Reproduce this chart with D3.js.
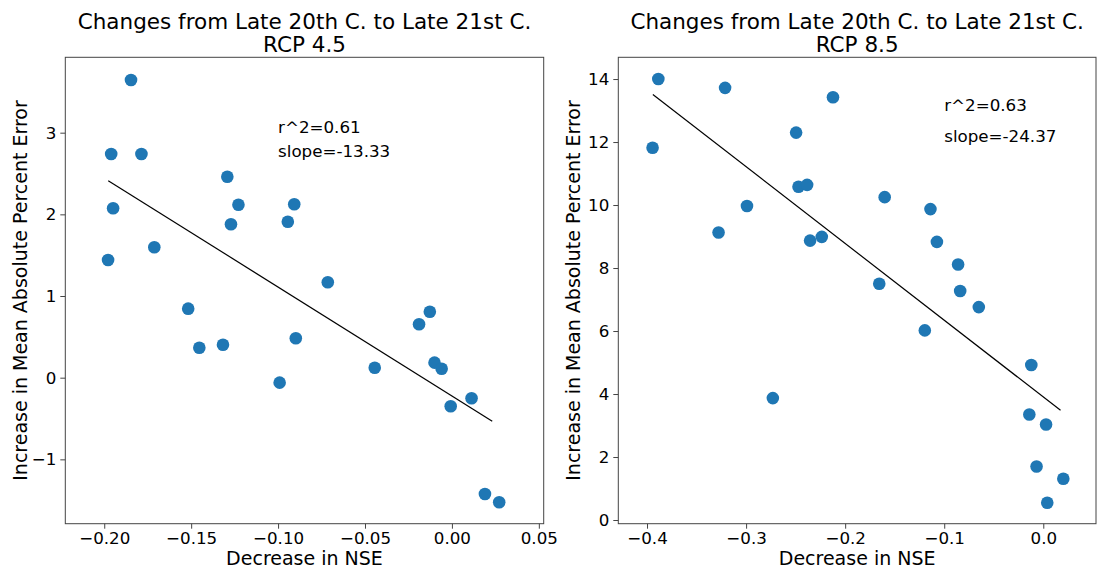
<html>
<head>
    <meta charset="utf-8">
    <style>
        body { margin: 0; background: white; }
        text { font-family: "DejaVu Sans", sans-serif; fill: black; }
        .frame { fill: none; stroke: #444; stroke-width: 1; }
        .tick line { stroke: #444; }
        .domain { display: none; }
    </style>
</head>
<body>
    <svg id="container" width="1097" height="570"></svg>
</body>
<script src="https://cdn.jsdelivr.net/npm/d3@7"></script>
<script>
    // RCP 4.5 scatter
    let nse45 = [-0.1846, -0.1960, -0.1786, -0.1292, -0.1228, -0.0907, -0.1949, -0.1271, -0.0944,
        -0.1712, -0.1978, -0.0714, -0.1517, -0.0127, -0.0189, -0.0898, -0.1317, -0.1453,
        -0.0100, -0.0059, -0.0444, -0.0991, 0.0113, -0.0007, 0.0190, 0.0272]
    let mape45 = [3.645, 2.739, 2.739, 2.461, 2.118, 2.123, 2.074, 1.878, 1.910,
        1.597, 1.441, 1.168, 0.845, 0.808, 0.654, 0.482, 0.404, 0.367,
        0.184, 0.110, 0.122, -0.061, -0.252, -0.350, -1.424, -1.526]

    // RCP 8.5 scatter
    let nse85 = [-0.3886, -0.3212, -0.2123, -0.2495, -0.3944, -0.2471, -0.2384, -0.2991, -0.1601,
        -0.1139, -0.3278, -0.2354, -0.2236, -0.1074, -0.0860, -0.1656, -0.0839, -0.0651,
        -0.1196, -0.0121, -0.2730, -0.0141, 0.0028, -0.0068, 0.0202, 0.0040]
    let mape85 = [14.00, 13.72, 13.42, 12.30, 11.82, 10.58, 10.64, 9.97, 10.25,
        9.87, 9.13, 8.87, 8.99, 8.83, 8.11, 7.50, 7.27, 6.76,
        6.02, 4.92, 3.87, 3.35, 3.03, 1.70, 1.31, 0.55]

    let titles = ["Changes from Late 20th C. to Late 21st C.\nRCP 4.5",
                  "Changes from Late 20th C. to Late 21st C.\nRCP 8.5"]
    let xTicks45 = [-0.20, -0.15, -0.10, -0.05, 0.00, 0.05]
    let yTicks45 = [-1, 0, 1, 2, 3]
    let xTicks85 = [-0.4, -0.3, -0.2, -0.1, 0.0]
    let yTicks85 = [0, 2, 4, 6, 8, 10, 12, 14]

    // regression fits: slope, intercept, x extent, r^2
    let fit45 = { slope: -13.33, intercept: -0.223, x0: -0.1977, x1: 0.0232, r2: 0.61 }
    let fit85 = { slope: -24.37, intercept: 3.906, x0: -0.3941, x1: 0.0174, r2: 0.63 }

    let panels = [
        { x: nse45, y: mape45, title: titles[0], xTicks: xTicks45, yTicks: yTicks45, xFmt: ".2f",
          fit: fit45, xDomain: [-0.2224, 0.0528], yDomain: [-1.788, 3.923], left: 65.3, right: 543.7,
          textAt: [-0.1, 3.0, 2.7] },
        { x: nse85, y: mape85, title: titles[1], xTicks: xTicks85, yTicks: yTicks85, xFmt: ".1f",
          fit: fit85, xDomain: [-0.429, 0.0532], yDomain: [-0.117, 14.69], left: 618.3, right: 1096,
          textAt: [-0.1, 13, 12] }
    ]

    let svg = d3.select("#container")
    let plotTop = 57.3, plotBottom = 523.7
    let minus = s => s.replace("-", "\u2212")

    panels.forEach(p => {
        let g = svg.append("g")
        let x = d3.scaleLinear().domain(p.xDomain).range([p.left, p.right])
        let y = d3.scaleLinear().domain(p.yDomain).range([plotBottom, plotTop])

        let xAxis = g.append("g")
            .attr("transform", `translate(0,${plotBottom})`)
            .call(d3.axisBottom(x).tickValues(p.xTicks).tickSize(5).tickPadding(3)
                .tickFormat(d => minus(d3.format(p.xFmt)(d))))
        xAxis.selectAll("text").attr("font-size", "16.7px").attr("dy", "0.71em")
            .style("font-family", "DejaVu Sans")

        let yAxis = g.append("g")
            .attr("transform", `translate(${p.left},0)`)
            .call(d3.axisLeft(y).tickValues(p.yTicks).tickSize(5).tickPadding(4)
                .tickFormat(d => minus(d3.format("d")(d))))
        yAxis.selectAll("text").attr("font-size", "16.7px")
            .style("font-family", "DejaVu Sans")

        g.append("rect").attr("class", "frame")
            .attr("x", p.left).attr("y", plotTop)
            .attr("width", p.right - p.left).attr("height", plotBottom - plotTop)

        g.selectAll("circle").data(p.x.map((d, i) => [d, p.y[i]]))
            .enter().append("circle")
            .attr("cx", d => x(d[0]))
            .attr("cy", d => y(d[1]))
            .attr("r", 6.3)
            .attr("fill", "#1f77b4")

        let f = p.fit
        g.append("line")
            .attr("x1", x(f.x0)).attr("y1", y(f.intercept + f.slope * f.x0))
            .attr("x2", x(f.x1)).attr("y2", y(f.intercept + f.slope * f.x1))
            .attr("stroke", "black").attr("stroke-width", 1.2)

        g.append("text").attr("x", x(p.textAt[0])).attr("y", y(p.textAt[1]))
            .attr("font-size", "16.7px").text("r^2=" + f.r2.toFixed(2))
        g.append("text").attr("x", x(p.textAt[0])).attr("y", y(p.textAt[2]))
            .attr("font-size", "16.7px").text("slope=" + f.slope.toFixed(2))

        let cx = (p.left + p.right) / 2
        p.title.split("\n").forEach((line, i) => {
            g.append("text").attr("x", cx).attr("y", 28.5 + i * 23.5)
                .attr("text-anchor", "middle").attr("font-size", "21.5px").text(line)
        })

        g.append("text").attr("x", cx).attr("y", 565)
            .attr("text-anchor", "middle").attr("font-size", "19px").text("Decrease in NSE")

        g.append("text")
            .attr("transform", `translate(${p.left - 38},${(plotTop + plotBottom) / 2}) rotate(-90)`)
            .attr("text-anchor", "middle").attr("font-size", "19px")
            .text("Increase in Mean Absolute Percent Error")
    })
</script>
</html>
